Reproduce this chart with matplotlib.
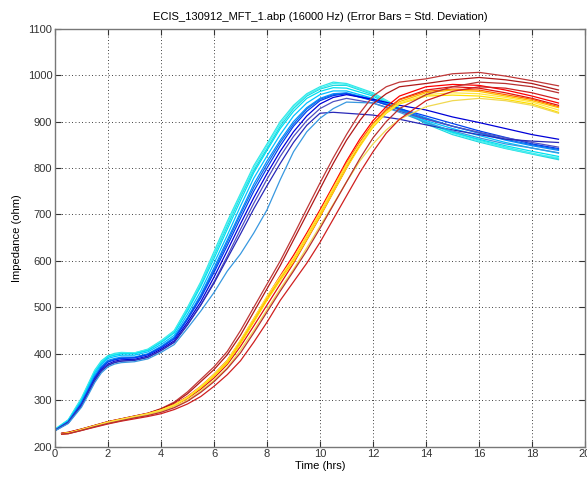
import matplotlib

matplotlib.use("Agg")
import matplotlib.pyplot as plt

# time axes (hrs)
t_blue = [0, 0.5, 1, 1.25, 1.5, 1.75, 2, 2.25, 2.5, 3, 3.5, 4, 4.5, 5, 5.5, 6, 6.5, 7, 7.5, 8, 8.5, 9,
          9.5, 10, 10.5, 11, 12, 13, 14, 15, 16, 17, 18, 19]
t_red = [0.25, 0.5, 1, 1.5, 2, 2.5, 3, 3.5, 4, 4.5, 5, 5.5, 6, 6.5, 7, 7.5, 8, 8.5, 9, 9.5, 10, 10.5, 11,
         11.5, 12, 12.5, 13, 14, 15, 16, 17, 18, 19]

# early group (cyan -> blue), impedance in ohm
b1 = [238, 258, 305, 335, 365, 385, 396, 401, 403, 402, 410, 428, 450, 500, 555, 620, 685, 745, 805, 852, 900, 935, 960, 975, 985, 982, 962, 930, 900, 878, 860, 845, 832, 820]
b2 = [237, 257, 302, 332, 362, 382, 395, 399, 401, 401, 408, 426, 448, 496, 550, 612, 675, 738, 795, 842, 890, 928, 955, 970, 978, 978, 958, 928, 895, 872, 856, 842, 830, 818]
b3 = [237, 257, 303, 333, 363, 382, 394, 399, 402, 402, 409, 427, 449, 498, 552, 615, 680, 742, 800, 848, 895, 932, 958, 972, 982, 980, 960, 930, 898, 875, 858, 843, 831, 822]
b4 = [236, 256, 300, 330, 360, 380, 393, 397, 400, 400, 407, 424, 445, 492, 545, 605, 668, 730, 790, 838, 885, 922, 950, 965, 973, 972, 955, 925, 897, 877, 862, 848, 836, 825]
b5 = [236, 255, 298, 327, 356, 377, 390, 394, 397, 397, 404, 420, 440, 485, 535, 595, 655, 718, 778, 826, 872, 912, 940, 958, 966, 966, 950, 925, 902, 885, 870, 855, 843, 832]
b6 = [235, 254, 295, 323, 352, 373, 386, 390, 393, 393, 400, 416, 436, 478, 527, 585, 645, 705, 765, 815, 860, 900, 930, 950, 960, 962, 948, 928, 908, 890, 875, 860, 848, 838]
b7 = [235, 253, 293, 321, 350, 371, 384, 388, 391, 392, 399, 414, 434, 476, 524, 580, 640, 700, 758, 808, 855, 895, 927, 948, 958, 961, 946, 926, 906, 890, 876, 862, 850, 840]
b8 = [235, 253, 292, 320, 348, 369, 382, 387, 390, 391, 398, 413, 432, 474, 520, 575, 633, 692, 750, 800, 848, 890, 922, 945, 956, 960, 945, 928, 912, 896, 880, 866, 852, 842]
b9 = [235, 252, 290, 317, 345, 366, 378, 384, 387, 388, 395, 410, 428, 468, 512, 565, 622, 680, 736, 788, 836, 878, 912, 938, 952, 958, 948, 935, 925, 910, 898, 885, 872, 862]
b10 = [235, 252, 289, 316, 343, 364, 376, 382, 385, 386, 393, 407, 425, 462, 505, 555, 610, 668, 724, 776, 825, 868, 902, 928, 943, 950, 940, 922, 905, 890, 877, 865, 855, 845]
b11 = [235, 251, 288, 315, 342, 363, 375, 381, 384, 386, 392, 407, 425, 463, 505, 552, 605, 658, 712, 762, 810, 855, 892, 918, 920, 918, 914, 905, 893, 882, 872, 862, 858, 855]
b12 = [234, 250, 285, 311, 338, 359, 372, 378, 381, 383, 389, 403, 420, 455, 492, 532, 578, 615, 660, 710, 775, 835, 878, 907, 928, 942, 940, 920, 898, 880, 865, 852, 843, 833]
blue_curves = [b1, b2, b3, b4, b5, b6, b7, b8, b9, b10, b11, b12]
blue_colors = ["#30e8e8", "#20d8e0", "#48f0f0", "#00e0f0", "#00c0ff", "#0090ff",
               "#1070e8", "#0040f0", "#0000d8", "#5050c0", "#2828b8", "#3898e0"]

# late group (red -> yellow)
r1 = [229, 231, 238, 246, 254, 260, 266, 272, 282, 296, 318, 345, 372, 405, 450, 500, 550, 600, 655, 712, 768, 822, 872, 918, 955, 975, 985, 992, 1003, 1006, 998, 988, 977]
r2 = [229, 231, 238, 246, 254, 260, 266, 272, 281, 294, 314, 340, 366, 398, 440, 490, 540, 590, 645, 700, 755, 810, 860, 902, 938, 960, 975, 982, 990, 995, 990, 982, 968]
r3 = [228, 230, 237, 245, 253, 259, 265, 271, 279, 291, 308, 330, 356, 386, 428, 475, 522, 568, 612, 660, 710, 762, 815, 862, 902, 932, 955, 975, 980, 978, 968, 955, 940]
r4 = [228, 230, 237, 245, 252, 258, 264, 270, 278, 289, 304, 324, 348, 377, 416, 460, 505, 550, 595, 645, 695, 748, 800, 850, 893, 925, 948, 968, 975, 972, 962, 950, 935]
r5 = [228, 230, 237, 245, 253, 259, 265, 271, 279, 290, 306, 328, 353, 382, 424, 470, 518, 562, 605, 655, 705, 758, 810, 856, 896, 926, 947, 965, 970, 968, 958, 948, 932]
r6 = [228, 229, 237, 245, 253, 259, 265, 271, 279, 290, 306, 328, 353, 383, 426, 472, 520, 563, 603, 652, 702, 754, 806, 852, 893, 922, 943, 962, 968, 965, 955, 945, 930]
r7 = [228, 229, 236, 244, 252, 258, 264, 270, 278, 289, 305, 327, 352, 380, 422, 468, 515, 558, 598, 646, 696, 748, 800, 846, 888, 918, 938, 955, 957, 955, 948, 938, 920]
r8 = [228, 229, 237, 245, 253, 259, 265, 271, 279, 290, 307, 330, 356, 386, 430, 476, 524, 566, 606, 655, 705, 757, 808, 852, 892, 920, 940, 958, 962, 960, 952, 942, 925]
r9 = [228, 229, 236, 244, 251, 257, 263, 269, 276, 286, 300, 320, 343, 370, 408, 450, 495, 540, 582, 628, 675, 722, 770, 815, 852, 882, 905, 932, 945, 950, 945, 935, 918]
r10 = [227, 228, 235, 242, 249, 255, 260, 265, 271, 280, 292, 308, 330, 355, 385, 425, 468, 515, 555, 595, 640, 690, 740, 790, 835, 875, 905, 945, 965, 975, 972, 962, 948]
r11 = [227, 228, 235, 243, 250, 256, 262, 267, 274, 284, 298, 317, 340, 368, 402, 445, 490, 535, 578, 622, 670, 720, 770, 820, 865, 900, 928, 958, 975, 985, 982, 975, 962]
red_curves = [r1, r2, r3, r4, r5, r6, r7, r8, r9, r10, r11]
red_colors = ["#c03838", "#b01818", "#ff0000", "#e01010", "#ff6000", "#ffc000",
              "#ffe000", "#ffe840", "#f0d850", "#d02020", "#b83030"]

title = "ECIS_130912_MFT_1.abp (16000 Hz) (Error Bars = Std. Deviation)"
x_ticks = [0, 2, 4, 6, 8, 10, 12, 14, 16, 18, 20]
y_ticks = [200, 300, 400, 500, 600, 700, 800, 900, 1000, 1100]

plt.rcParams["font.family"] = ["Liberation Sans", "DejaVu Sans"]

fig = plt.figure(figsize=(5.87, 4.78), dpi=100)
ax = fig.add_axes([55 / 587, 1 - 446.7 / 478, 530 / 587, 418 / 478])

for values, color in zip(blue_curves, blue_colors):
    ax.plot(t_blue, values, color=color, lw=0.9)
for values, color in zip(red_curves, red_colors):
    ax.plot(t_red, values, color=color, lw=0.9)

ax.set_xlim(0, 20)
ax.set_ylim(200, 1100)
ax.set_xticks(x_ticks)
ax.set_yticks(y_ticks)
ax.grid(True, color="black", linestyle=(0, (1, 3)), lw=0.6)
ax.tick_params(direction="in", top=True, right=True, length=4, labelsize=8, colors="#333333",
               pad=2)
for spine in ax.spines.values():
    spine.set_color("#777777")
    spine.set_linewidth(1.0)
ax.set_title(title, fontsize=8, pad=6)
ax.set_xlabel("Time (hrs)", fontsize=8, labelpad=1)
ax.set_ylabel("Impedance (ohm)", fontsize=8, labelpad=4)

fig.savefig("out.png", dpi=100)
